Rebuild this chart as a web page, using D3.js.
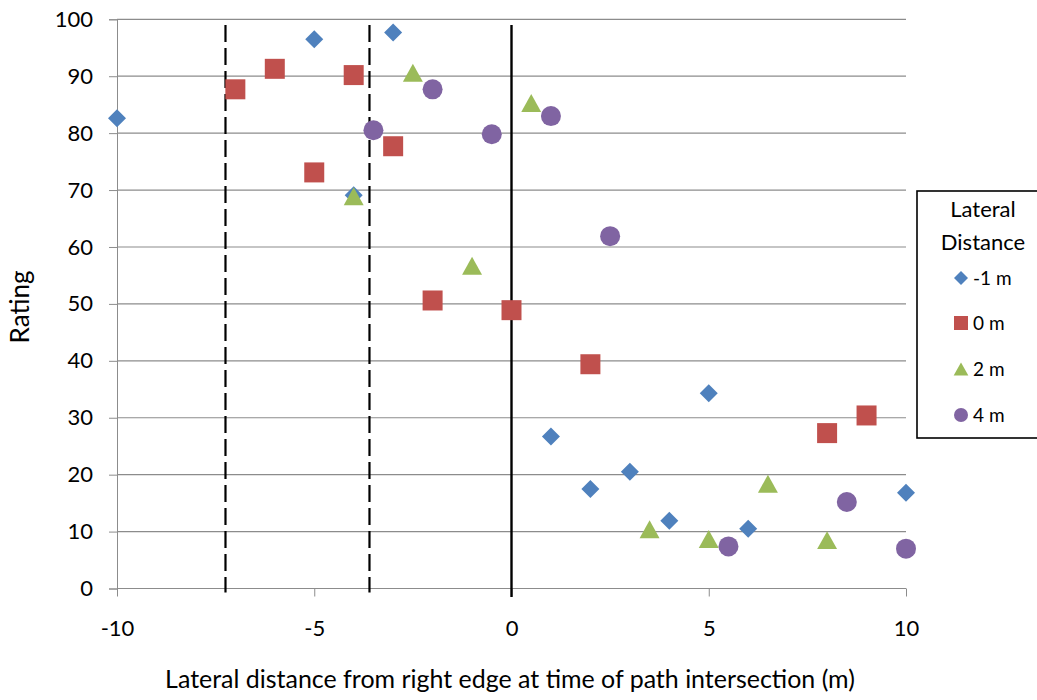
<!DOCTYPE html>
<html>
<head>
<meta charset="utf-8">
<script src="https://cdn.jsdelivr.net/npm/d3@7"></script>
<style>
  html, body { margin: 0; padding: 0; background: #fff; }
  svg { display: block; font-family: Lato, "Open Sans", sans-serif; }
</style>
</head>
<body>
<svg id="chart" width="1037" height="700"></svg>
<script>
// ---- data ----
const seriesNames = ["-1 m", "0 m", "2 m", "4 m"];
const seriesColors = ["#4F81BD", "#C0504D", "#9BBB59", "#8064A2"];

const xMinus1 = [-10, -5, -3, -4, 1, 2, 3, 4, 5, 6, 10];
const yMinus1 = [82.6, 96.5, 97.7, 69.1, 26.7, 17.5, 20.5, 11.9, 34.3, 10.5, 16.8];

const x0 = [-7, -6, -4, -5, -3, -2, 0, 2, 8, 9];
const y0 = [87.7, 91.3, 90.2, 73.1, 77.7, 50.6, 48.9, 39.4, 27.3, 30.4];

const x2 = [-2.5, -4, -1, 0.5, 3.5, 5, 6.5, 8];
const y2 = [90.6, 68.9, 56.7, 85.3, 10.4, 8.7, 18.4, 8.5];

const x4 = [-3.5, -2, -0.5, 1, 2.5, 5.5, 8.5, 10];
const y4 = [80.5, 87.7, 79.8, 83.0, 61.9, 7.4, 15.2, 7.0];

const xTicks = [-10, -5, 0, 5, 10];
const yTicks = [0, 10, 20, 30, 40, 50, 60, 70, 80, 90, 100];
const dashedLinesX = [-7.25, -3.6];
const solidLineX = [0];

const xTitle = "Lateral distance from right edge at time of path intersection (m)";
const yTitle = "Rating";
const legendTitle = ["Lateral", "Distance"];

// ---- layout ----
const svg = d3.select("#chart");
const x = d3.scaleLinear().domain([-10, 10]).range([117, 906]);
const y = d3.scaleLinear().domain([0, 100]).range([588.5, 19.3]);
const gridColor = "#8c8c8c";
const fmt = d => String(d);

svg.append("rect").attr("width", 1037).attr("height", 700).attr("fill", "#fff");

// horizontal gridlines + y ticks
const yAxis = d3.axisLeft(y).tickValues(yTicks).tickSize(8).tickPadding(16).tickFormat(fmt);
const gy = svg.append("g").attr("transform", `translate(${x(-10)},0)`).call(yAxis);
gy.select(".domain").attr("stroke", gridColor);
gy.selectAll(".tick line").attr("stroke", gridColor);
gy.selectAll(".tick text").attr("font-size", 22).attr("fill", "#000").attr("font-family", "Lato, sans-serif");

svg.append("g").selectAll("line").data(yTicks).join("line")
  .attr("x1", x(-10)).attr("x2", x(10))
  .attr("y1", d => y(d)).attr("y2", d => y(d))
  .attr("stroke", gridColor).attr("stroke-width", 1.2);

// x axis
const xAxis = d3.axisBottom(x).tickValues(xTicks).tickSize(8).tickPadding(24).tickFormat(fmt);
const gx = svg.append("g").attr("transform", `translate(0,${y(0)})`).call(xAxis);
gx.select(".domain").attr("stroke", gridColor).attr("d", `M${x(-10)},0H${x(10)}`);
gx.selectAll(".tick line").attr("stroke", gridColor);
gx.selectAll(".tick text").attr("font-size", 22).attr("fill", "#000").attr("font-family", "Lato, sans-serif");

// reference lines
svg.append("g").selectAll("line").data(dashedLinesX).join("line")
  .attr("x1", d => x(d)).attr("x2", d => x(d))
  .attr("y1", y(99)).attr("y2", y(-0.7))
  .attr("stroke", "#000").attr("stroke-width", 2.2)
  .attr("stroke-dasharray", "17,6");
svg.append("g").selectAll("line").data(solidLineX).join("line")
  .attr("x1", d => x(d)).attr("x2", d => x(d))
  .attr("y1", y(99)).attr("y2", y(-1.5))
  .attr("stroke", "#000").attr("stroke-width", 2.4);

// symbols
const triangleBox = {
  draw(ctx, size) {
    const w = Math.sqrt(size) * 1.05, h = w * 0.9;
    ctx.moveTo(0, -h / 2);
    ctx.lineTo(w / 2, h / 2);
    ctx.lineTo(-w / 2, h / 2);
    ctx.closePath();
  }
};
const diamond = {
  draw(ctx, size) {
    const r = Math.sqrt(size) / 2;
    ctx.moveTo(0, -r); ctx.lineTo(r, 0); ctx.lineTo(0, r); ctx.lineTo(-r, 0); ctx.closePath();
  }
};
const symbolTypes = [diamond, d3.symbolSquare, triangleBox, d3.symbolCircle];
const symbolSizes = [18 * 18, 20 * 20, 19 * 19, Math.PI * 10 * 10];
const legendSizes = [14 * 14, 14 * 14, 14 * 14, Math.PI * 7 * 7];

const series = [
  { xs: xMinus1, ys: yMinus1 },
  { xs: x0, ys: y0 },
  { xs: x2, ys: y2 },
  { xs: x4, ys: y4 }
];
series.forEach((s, i) => {
  const pts = s.xs.map((xv, j) => [xv, s.ys[j]]);
  svg.append("g").selectAll("path").data(pts).join("path")
    .attr("transform", d => `translate(${x(d[0])},${y(d[1])})`)
    .attr("d", d3.symbol().type(symbolTypes[i]).size(symbolSizes[i]))
    .attr("fill", seriesColors[i]);
});

// axis titles
const xt = svg.append("text").attr("x", (165 + 855) / 2).attr("y", 688)
  .attr("text-anchor", "middle").attr("font-size", 22).attr("fill", "#000")
  .text(xTitle);
const w = xt.node().getComputedTextLength();
xt.attr("font-size", 22 * 690 / w);

const yt = svg.append("text").attr("transform", "translate(29,307) rotate(-90)")
  .attr("text-anchor", "middle").attr("font-size", 22).attr("fill", "#000")
  .text(yTitle);
const wy = yt.node().getComputedTextLength();
yt.attr("font-size", 22 * 73 / wy);

// legend
const lg = svg.append("g");
lg.append("rect").attr("x", 917).attr("y", 191).attr("width", 140).attr("height", 247)
  .attr("fill", "#fff").attr("stroke", "#000").attr("stroke-width", 1.6);
lg.selectAll("text.lt").data(legendTitle).join("text").attr("class", "lt")
  .attr("x", 983).attr("y", (d, i) => 217 + i * 33)
  .attr("text-anchor", "middle").attr("font-size", 22).attr("fill", "#000")
  .text(d => d);
const legendY = [278, 323, 369, 415];
seriesNames.forEach((name, i) => {
  lg.append("path")
    .attr("transform", `translate(961,${legendY[i]})`)
    .attr("d", d3.symbol().type(symbolTypes[i]).size(legendSizes[i]))
    .attr("fill", seriesColors[i]);
  lg.append("text").attr("x", 973).attr("y", legendY[i] + 7)
    .attr("font-size", 19).attr("fill", "#000").text(name);
});
</script>
</body>
</html>
